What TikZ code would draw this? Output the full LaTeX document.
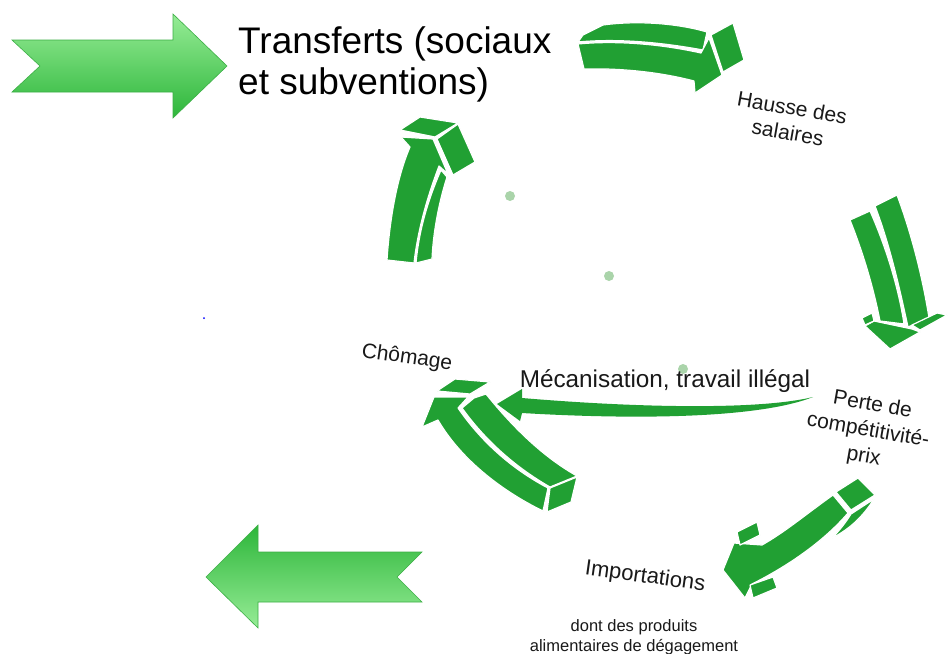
\documentclass[tikz,border=0pt]{standalone}
\usepackage{fontspec}
\setmainfont{Liberation Sans}
\definecolor{ag}{RGB}{33,160,51}
\definecolor{lg1}{RGB}{150,236,150}
\definecolor{lg2}{RGB}{45,182,58}
\definecolor{lgd}{RGB}{60,175,70}
\definecolor{dotc}{RGB}{170,212,170}
\definecolor{txt}{RGB}{25,25,25}
\tikzset{
  face/.style={fill=ag, draw=white, line width=1.2pt, line join=round},
  bigarrow/.style={draw=lgd, line width=0.6pt},
  lbl/.style={inner sep=0pt, align=center, text=txt},
  dotm/.style={circle, fill=dotc, inner sep=0pt, minimum size=10pt},
}
\begin{document}
\begin{tikzpicture}[x=1pt,y=-1pt]
\useasboundingbox (0,0) rectangle (950,653);
\fill[white] (0,0) rectangle (950,653);

% big shaded arrows
\shade[bigarrow, top color=lg1, bottom color=lg2]
  (12,40) -- (173,40) -- (173,14) -- (227,66) -- (173,118) -- (173,92) -- (12,92) -- (40,66) -- cycle;
\shade[bigarrow, top color=lg2, bottom color=lg1]
  (206,577) -- (258,525) -- (258,552) -- (422,552) -- (397,577) -- (422,602) -- (258,602) -- (258,628) -- cycle;

% arrow A (top right)
\path[face] (583,35) -- (603,25) .. controls (640,20) and (680,24) .. (707,32) -- (703,50)
  .. controls (665,43) and (620,38) .. (578,42) -- cycle;
\path[face] (578,44) .. controls (620,40) and (665,45) .. (701,53) -- (709,38) -- (722,75) -- (695,93) -- (694,81)
  .. controls (660,72) and (620,68) .. (584,69) -- cycle;
\path[face] (711,35) -- (733,23) -- (744,60) -- (723,72) -- cycle;

% arrow B (right)
\path[face] (850,220) -- (870,211) .. controls (885,245) and (898,285) .. (904,324) -- (880,321)
  .. controls (873,285) and (862,250) .. (850,220) -- cycle;
\path[face] (875,206) -- (897,195) .. controls (912,235) and (923,280) .. (929,318) -- (908,327)
  .. controls (900,290) and (890,245) .. (875,206) -- cycle;
\path[face] (865,326) -- (874,321) -- (912,329) -- (920,332) -- (890,349) -- cycle;
\path[face] (862,318) -- (872,313) -- (874,321) -- (865,325) -- cycle;
\path[face] (912,325) -- (937,313) -- (947,315) -- (920,330) -- cycle;

% arrow C (Chomage)
\path[face] (434,397) -- (468,397) -- (458,408) .. controls (480,440) and (510,468) .. (548,488) -- (543,511)
  .. controls (500,490) and (460,458) .. (438,420) -- (422,427) -- cycle;
\path[face] (462,408) -- (474,398) -- (486,394) .. controls (515,430) and (545,458) .. (577,476) -- (550,487)
  .. controls (515,467) and (485,440) .. (462,408) -- cycle;
\path[face] (550,488) -- (577,477) -- (571,502) -- (547,512) -- cycle;
\path[face] (437,391) -- (455,379) -- (490,382) -- (470,394) -- cycle;

% arrow D (bottom right)
\path[face] (851,514) -- (874,499) .. controls (862,518) and (848,530) .. (832,538) .. controls (840,530) and (846,522) .. (851,514) -- cycle;
\path[face] (833,495) .. controls (805,515) and (785,532) .. (762,545) -- (734,543) -- (723,570) -- (745,598) -- (752,584)
  .. controls (790,565) and (825,540) .. (848,513) -- cycle;
\path[face] (836,492) -- (858,478) -- (875,495) -- (851,510) -- cycle;
\path[face] (737,532) -- (757,522) -- (760,535) -- (740,545) -- cycle;
\path[face] (750,585) -- (773,577) -- (777,588) -- (753,598) -- cycle;

% arrow E (left, up)
\path[face] (401,137) -- (433,139) -- (448,174) -- (439,166) .. controls (428,195) and (418,228) .. (414,263) -- (387,260)
  .. controls (390,215) and (398,175) .. (410,147) -- cycle;
\path[face] (441,170) -- (447,177) .. controls (438,205) and (433,235) .. (432,259) -- (416,263)
  .. controls (419,230) and (428,200) .. (441,170) -- cycle;
\path[face] (437,139) -- (458,124) -- (475,162) -- (453,175) -- cycle;
\path[face] (400,130) -- (420,117) -- (458,123) -- (435,137) -- cycle;

% thin arrow (Mecanisation)
\fill[ag] (497,404) -- (522,389) -- (522,398) .. controls (640,408) and (760,410) .. (813,397)
  .. controls (760,418) and (640,420) .. (522,413) -- (520,421) -- cycle;

% dots
\node[dotm] (d1) at (510,196) {};
\node[dotm] (d2) at (609,276) {};
\node[dotm] (d3) at (683,369) {};
\node[circle, fill=blue, inner sep=0pt, minimum size=2pt] (bd) at (204,318) {};

% texts
\node[lbl, align=left, anchor=west, font=\fontsize{37}{41}\selectfont, text=black] (trans) at (238,64)
  {Transferts (sociaux\\et subventions)};
\node[lbl, rotate=-10, font=\fontsize{21}{25}\selectfont] (hausse) at (790,120) {Hausse des\\salaires};
\node[lbl, rotate=-8, font=\fontsize{21}{24}\selectfont] (chom) at (407,358) {Chômage};
\node[lbl, font=\fontsize{24.3}{28}\selectfont] (meca) at (665,381) {Mécanisation, travail illégal};
\node[lbl, rotate=-10, font=\fontsize{21}{26}\selectfont] (perte) at (868,431) {Perte de\\compétitivité-\\prix};
\node[lbl, rotate=-8, font=\fontsize{22}{26}\selectfont] (impo) at (645,577) {Importations};
\node[lbl, font=\fontsize{16.5}{20}\selectfont] (dont) at (634,637) {dont des produits\\alimentaires de dégagement};
\end{tikzpicture}
\end{document}
